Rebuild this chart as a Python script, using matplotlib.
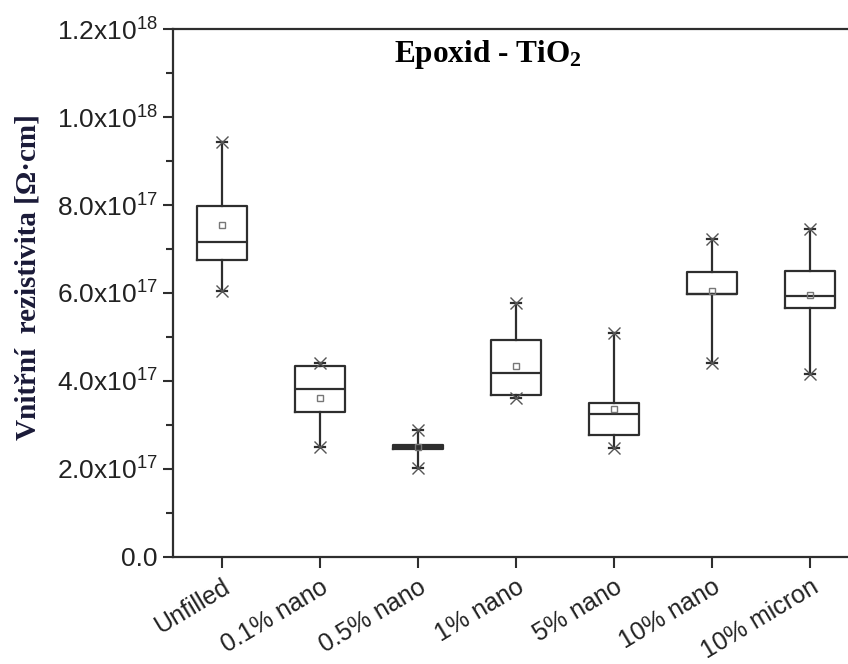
import matplotlib
matplotlib.use("Agg")
import matplotlib.pyplot as plt
from matplotlib.ticker import FuncFormatter, MultipleLocator

categories = ["Unfilled", "0.1% nano", "0.5% nano", "1% nano", "5% nano", "10% nano", "10% micron"]
whisker_low = [6.05e17, 2.51e17, 2.02e17, 3.61e17, 2.47e17, 4.42e17, 4.16e17]
q1 = [6.75e17, 3.30e17, 2.46e17, 3.68e17, 2.77e17, 5.97e17, 5.67e17]
median = [7.17e17, 3.81e17, 2.50e17, 4.19e17, 3.24e17, 5.98e17, 5.94e17]
q3 = [7.98e17, 4.34e17, 2.54e17, 4.93e17, 3.51e17, 6.48e17, 6.51e17]
whisker_high = [9.44e17, 4.42e17, 2.89e17, 5.77e17, 5.08e17, 7.22e17, 7.45e17]
mean = [7.55e17, 3.62e17, 2.49e17, 4.33e17, 3.36e17, 6.05e17, 5.95e17]

line_col = "#2e2e2e"

fig = plt.figure(figsize=(8.48, 6.64), dpi=100)
ax = fig.add_axes([173 / 848, 107 / 664, 675 / 848, 528 / 664])

positions = list(range(1, len(categories) + 1))
stats = []
for i in range(len(categories)):
    stats.append({"whislo": whisker_low[i], "q1": q1[i], "med": median[i],
                  "q3": q3[i], "whishi": whisker_high[i], "mean": mean[i],
                  "fliers": []})

ax.bxp(stats, positions=positions, widths=0.52, showmeans=True, showfliers=False,
       boxprops=dict(color=line_col, linewidth=1.6),
       medianprops=dict(color=line_col, linewidth=1.6),
       whiskerprops=dict(color=line_col, linewidth=1.6),
       capprops=dict(color=line_col, linewidth=1.6),
       capwidths=0.1,
       meanprops=dict(marker="s", markerfacecolor="none", markeredgecolor="#777777",
                      markersize=5, markeredgewidth=1.0))

# min / max crosses
ax.plot(positions, whisker_high, "x", color="#555555", markersize=8, markeredgewidth=1.0)
ax.plot(positions, whisker_low, "x", color="#555555", markersize=8, markeredgewidth=1.0)

ax.set_xlim(0.5, 0.5 + 675 / 98)
ax.set_ylim(0, 1.2e18)


def sci_fmt(v, pos):
    if v == 0:
        return "0.0"
    exp = len(str(int(round(v)))) - 1
    mant = v / 10 ** exp
    return r"$\mathregular{%.1fx10^{%d}}$" % (mant, exp)


ax.yaxis.set_major_locator(MultipleLocator(2e17))
ax.yaxis.set_minor_locator(MultipleLocator(1e17))
ax.yaxis.set_major_formatter(FuncFormatter(sci_fmt))

ax.set_xticks(positions)
ax.set_xticklabels(categories, rotation=31, ha="right", rotation_mode="anchor",
                   fontsize=18, family="Liberation Sans", color="#222222")
for lab in ax.get_yticklabels():
    lab.set_family("Liberation Sans")
    lab.set_fontsize(19)
    lab.set_color("#222222")

ax.tick_params(axis="x", direction="out", length=8, width=1.5, color=line_col, pad=5)
ax.tick_params(axis="y", which="major", direction="out", length=7, width=1.5, color=line_col, pad=4)
ax.tick_params(axis="y", which="minor", direction="out", length=5, width=1.5, color=line_col)

for side in ["left", "bottom", "top"]:
    ax.spines[side].set_color(line_col)
    ax.spines[side].set_linewidth(1.6)
ax.spines["right"].set_visible(False)

ax.text(0.467, 0.951, r"Epoxid - TiO$\mathregular{_2}$", transform=ax.transAxes,
        ha="center", va="center", fontsize=22.5, fontweight="bold",
        family="Liberation Serif", color="black")

fig.text(28 / 848, 1 - 277 / 664, "Vnitřní  rezistivita [Ω·cm]", rotation=90,
         ha="center", va="center", fontsize=21, fontweight="bold",
         family="Liberation Serif", color="#1a1a38")

fig.savefig("out.png", dpi=100)
